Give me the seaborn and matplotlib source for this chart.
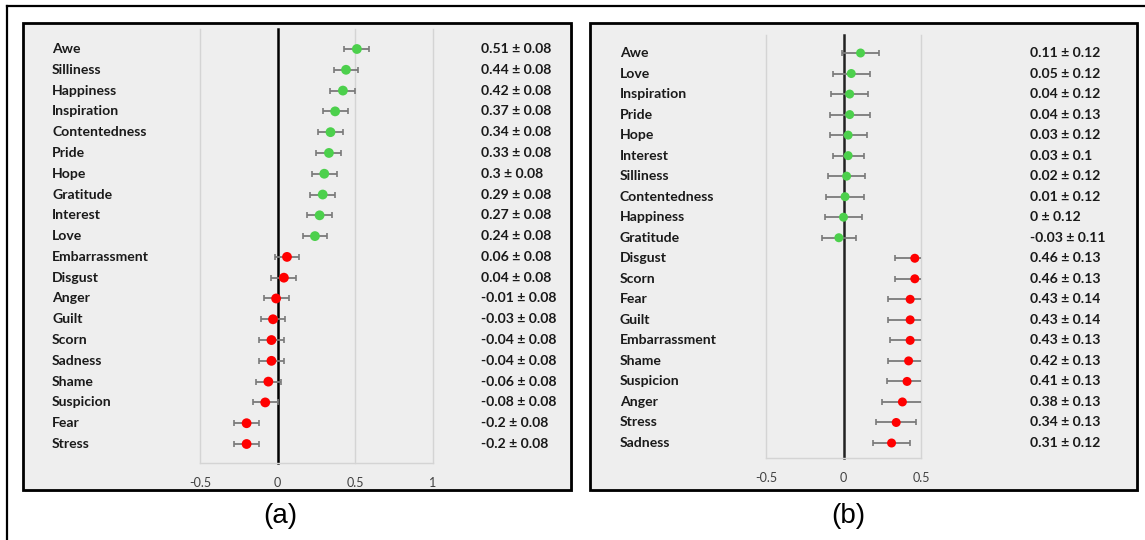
import matplotlib
matplotlib.use("Agg")
import matplotlib.pyplot as plt
import seaborn as sns
import pandas as pd
from matplotlib.patches import Rectangle
from matplotlib.lines import Line2D
from matplotlib.transforms import blended_transform_factory

# ---------------- data ----------------
emotions_a = ["Awe", "Silliness", "Happiness", "Inspiration", "Contentedness", "Pride",
              "Hope", "Gratitude", "Interest", "Love", "Embarrassment", "Disgust",
              "Anger", "Guilt", "Scorn", "Sadness", "Shame", "Suspicion", "Fear", "Stress"]
means_a = [0.51, 0.44, 0.42, 0.37, 0.34, 0.33, 0.3, 0.29, 0.27, 0.24,
           0.06, 0.04, -0.01, -0.03, -0.04, -0.04, -0.06, -0.08, -0.2, -0.2]
errs_a = [0.08, 0.08, 0.08, 0.08, 0.08, 0.08, 0.08, 0.08, 0.08, 0.08,
          0.08, 0.08, 0.08, 0.08, 0.08, 0.08, 0.08, 0.08, 0.08, 0.08]
valence_a = ["positive", "positive", "positive", "positive", "positive", "positive",
             "positive", "positive", "positive", "positive", "negative", "negative",
             "negative", "negative", "negative", "negative", "negative", "negative",
             "negative", "negative"]

emotions_b = ["Awe", "Love", "Inspiration", "Pride", "Hope", "Interest", "Silliness",
              "Contentedness", "Happiness", "Gratitude", "Disgust", "Scorn", "Fear",
              "Guilt", "Embarrassment", "Shame", "Suspicion", "Anger", "Stress", "Sadness"]
means_b = [0.11, 0.05, 0.04, 0.04, 0.03, 0.03, 0.02, 0.01, 0, -0.03,
           0.46, 0.46, 0.43, 0.43, 0.43, 0.42, 0.41, 0.38, 0.34, 0.31]
errs_b = [0.12, 0.12, 0.12, 0.13, 0.12, 0.1, 0.12, 0.12, 0.12, 0.11,
          0.13, 0.13, 0.14, 0.14, 0.13, 0.13, 0.13, 0.13, 0.13, 0.12]
valence_b = ["positive", "positive", "positive", "positive", "positive", "positive",
             "positive", "positive", "positive", "positive", "negative", "negative",
             "negative", "negative", "negative", "negative", "negative", "negative",
             "negative", "negative"]

ticks_a = [-0.5, 0, 0.5, 1]
ticks_b = [-0.5, 0, 0.5]
panel_labels = ["(a)", "(b)"]

palette = {"positive": "#4cd04c", "negative": "#ff0000"}

# ---------------- figure ----------------
W, H = 1145, 540
fig = plt.figure(figsize=(W / 100, H / 100), dpi=100)
fig.patch.set_facecolor("white")

FONT = ["Lato", "DejaVu Sans"]


def fx(px):
    return px / W


def fy(py):
    return 1 - py / H


# outer frame
fig.add_artist(Line2D([fx(7), fx(7)], [0, fy(6)], color="black", lw=1.6))
fig.add_artist(Line2D([fx(7), 1], [fy(6), fy(6)], color="black", lw=1.6))


def panel_box(l, r, t, b):
    fig.patches.append(Rectangle((fx(l) + 0.0015, fy(b) - 0.003), fx(r - l), (b - t) / H,
                                 transform=fig.transFigure, figure=fig,
                                 facecolor="#b0b0b0", edgecolor="none", zorder=-3))
    fig.patches.append(Rectangle((fx(l), fy(b)), fx(r - l), (b - t) / H,
                                 transform=fig.transFigure, figure=fig,
                                 facecolor="#eeeeee", edgecolor="black", lw=2.0, zorder=-2))


def draw_panel(emos, means, errs, val, ticks, box, area, rows, label_px, value_px,
               zero_color, msize, plabel, plabel_x):
    l, r, t, b = box
    panel_box(l, r, t, b)
    al, ar, at, ab = area
    ax = fig.add_axes([fx(al), fy(ab), fx(ar - al), (ab - at) / H])
    ax.set_facecolor("none")
    n = len(emos)
    y_top, y_bot = rows
    step = (y_bot - y_top) / (n - 1)
    df = pd.DataFrame({"emotion": emos, "mean": means, "err": errs, "valence": val,
                       "pos": list(range(n))})
    for g in ticks:
        if g != 0:
            ax.axvline(g, color="#d4d4d4", lw=1.0, zorder=0.5, clip_on=False)
    ax.axvline(0, color=zero_color, lw=1.8, zorder=1, clip_on=False)
    ax.errorbar(df["mean"], df["pos"], xerr=df["err"], fmt="none", ecolor="#7a7a7a",
                elinewidth=1.3, capsize=2.5, capthick=1.2, zorder=2)
    sns.scatterplot(data=df, x="mean", y="pos", hue="valence", palette=palette,
                    s=msize, edgecolor="none", legend=False, ax=ax, zorder=3)
    ax.set_xlim(ticks[0], ticks[-1])
    ax.set_ylim(19 + (ab - y_bot) / step, -(y_top - at) / step)
    for s in ["top", "left", "right"]:
        ax.spines[s].set_visible(False)
    ax.spines["bottom"].set_color("#d4d4d4")
    ax.spines["bottom"].set_linewidth(1.0)
    ax.set_yticks([])
    ax.set_xticks(ticks)
    ax.set_xticklabels([f"{v:g}" for v in ticks], family=FONT, fontsize=9,
                       color="#404040")
    ax.tick_params(axis="x", length=0, pad=10)
    ax.set_xlabel("")
    ax.set_ylabel("")
    tr = blended_transform_factory(fig.transFigure, ax.transData)
    for i, row in df.iterrows():
        ax.text(fx(label_px), row["pos"], row["emotion"], transform=tr, ha="left",
                va="center", fontsize=10.1, fontweight="bold", family=FONT,
                color="#1a1a1a", clip_on=False)
        ax.text(fx(value_px), row["pos"], f"{row['mean']:g} \u00b1 {row['err']:g}",
                transform=tr, ha="left", va="center", fontsize=10.1, fontweight="bold",
                family=FONT, color="#1a1a1a", clip_on=False)
    fig.text(fx(plabel_x), fy(516), plabel, ha="center", va="center", fontsize=20,
             family=["Liberation Sans", "DejaVu Sans"], color="black")
    return ax


draw_panel(emotions_a, means_a, errs_a, valence_a, ticks_a,
           box=(23, 571, 23, 490), area=(200, 433, 29, 463), rows=(49, 444),
           label_px=52, value_px=481, zero_color="black", msize=50,
           plabel=panel_labels[0], plabel_x=280)
draw_panel(emotions_b, means_b, errs_b, valence_b, ticks_b,
           box=(590, 1137, 23, 490), area=(766, 921, 35, 458), rows=(53, 443),
           label_px=620, value_px=1030, zero_color="#222222", msize=42,
           plabel=panel_labels[1], plabel_x=848)

fig.savefig("out.png", dpi=100)
